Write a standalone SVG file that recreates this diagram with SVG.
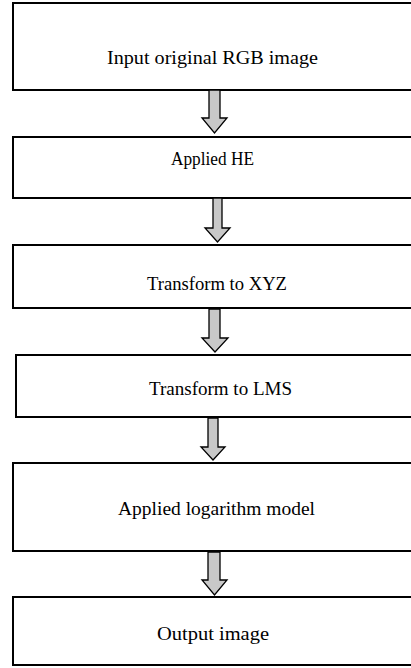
<svg xmlns="http://www.w3.org/2000/svg" width="411" height="668" viewBox="0 0 411 668">
  <style>
    .box { fill: #ffffff; stroke: #000000; stroke-width: 2; }
    .lbl { font-family: "Liberation Serif", "Times New Roman", serif; font-size: 19px; fill: #000000; }
    .arrow { fill: #c8c8c8; stroke: #000000; stroke-width: 1.3; stroke-linejoin: miter; }
  </style>
  <rect width="411" height="668" fill="#ffffff"/>

  <g id="node-input">
    <rect class="box" x="13" y="3" width="410" height="87"/>
    <text class="lbl" x="107" y="64" textLength="211" lengthAdjust="spacingAndGlyphs">Input original RGB image</text>
  </g>
  <g id="node-he">
    <rect class="box" x="13" y="137" width="410" height="61"/>
    <text class="lbl" x="171" y="165" textLength="83" lengthAdjust="spacingAndGlyphs">Applied HE</text>
  </g>
  <g id="node-xyz">
    <rect class="box" x="13" y="245" width="410" height="63"/>
    <text class="lbl" x="147" y="290" textLength="140" lengthAdjust="spacingAndGlyphs">Transform to XYZ</text>
  </g>
  <g id="node-lms">
    <rect class="box" x="16" y="355" width="410" height="62"/>
    <text class="lbl" x="149" y="395" textLength="143" lengthAdjust="spacingAndGlyphs">Transform to LMS</text>
  </g>
  <g id="node-log">
    <rect class="box" x="13" y="463" width="410" height="88"/>
    <text class="lbl" x="118" y="515" textLength="197" lengthAdjust="spacingAndGlyphs">Applied logarithm model</text>
  </g>
  <g id="node-output">
    <rect class="box" x="13" y="597" width="410" height="68"/>
    <text class="lbl" x="157" y="640" textLength="112" lengthAdjust="spacingAndGlyphs">Output image</text>
  </g>

  <g id="connectors">
    <path class="arrow" d="M209,90 H220 V118 H227 L214.5,133 L202,118 H209 Z"/>
    <path class="arrow" d="M213,198 H222 V228 H230 L217.5,242 L205,228 H213 Z"/>
    <path class="arrow" d="M209,309 H220 V338 H228 L215,352 L202,338 H209 Z"/>
    <path class="arrow" d="M208,418 H218 V447 H225 L213,460 L201,447 H208 Z"/>
    <path class="arrow" d="M208,552 H220 V580 H227 L214.5,595 L202,580 H208 Z"/>
  </g>
</svg>
